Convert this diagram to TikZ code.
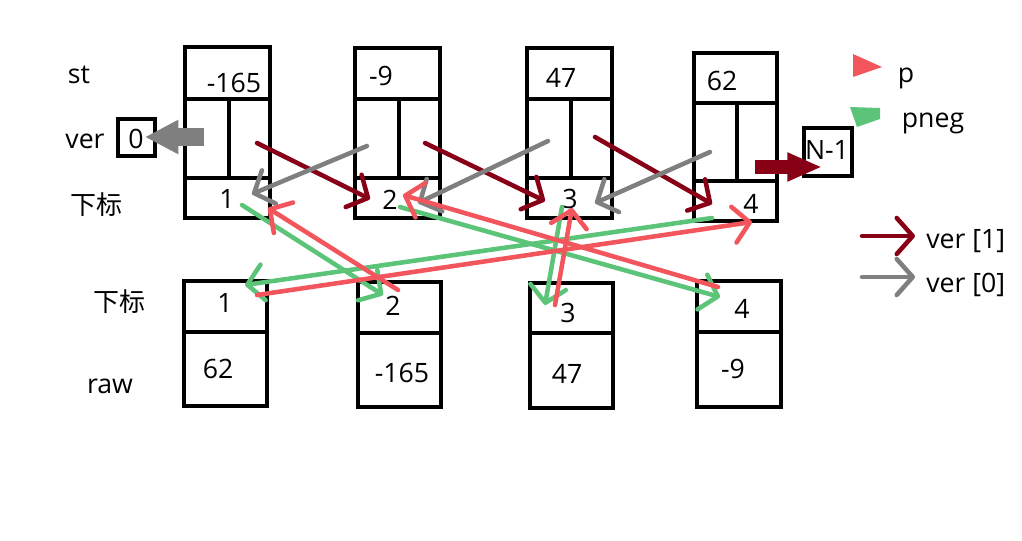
\documentclass[tikz,border=0pt]{standalone}
\usepackage{fontspec}
\setmainfont{Open Sans}
\newfontfamily\cjk{Noto Sans CJK SC}
\usetikzlibrary{arrows.meta}
\definecolor{vone}{RGB}{136,0,21}
\definecolor{vzero}{RGB}{127,127,127}
\definecolor{pcol}{RGB}{242,86,92}
\definecolor{ncol}{RGB}{92,196,121}
\tikzset{
  frame/.style={line width=3.6pt, line join=miter},
  lbl/.style={font=\fontsize{20}{24}\selectfont, inner sep=0pt, anchor=base},
  cjklbl/.style={font=\cjk\fontsize{19.5}{24}\selectfont, inner sep=0pt},
  conn/.style={line width=3.4pt, line cap=round, line join=round,
    -{Straight Barb[round,length=12pt,width=27pt]}},
  vonearr/.style={conn, draw=vone},
  vzeroarr/.style={conn, draw=vzero},
  parr/.style={conn, draw=pcol},
  narr/.style={conn, draw=ncol},
}
\begin{document}
\begin{tikzpicture}[x=0.75pt,y=-0.75pt]
\useasboundingbox[fill=white] (0,0) rectangle (1022,540);

% ---- top boxes (st) ----
\draw[frame] (185,47) rectangle (270,218);
\draw[frame] (185,99) -- (270,99) (185,178) -- (270,178) (229,99) -- (229,178);
\draw[frame] (355,48) rectangle (440,218);
\draw[frame] (355,99) -- (440,99) (355,178) -- (440,178) (399,99) -- (399,178);
\draw[frame] (527,48) rectangle (612,218);
\draw[frame] (527,99) -- (612,99) (527,178) -- (612,178) (571,99) -- (571,178);
\draw[frame] (694,53) rectangle (777,221);
\draw[frame] (694,103) -- (777,103) (694,181) -- (777,181) (737,103) -- (737,181);

% ---- bottom boxes (raw) ----
\draw[frame] (184,281) rectangle (267,406);
\draw[frame] (184,332) -- (267,332);
\draw[frame] (358,282) rectangle (441,407);
\draw[frame] (358,333) -- (441,333);
\draw[frame] (530,283) rectangle (613,408);
\draw[frame] (530,333) -- (613,333);
\draw[frame] (697,281) rectangle (781,407);
\draw[frame] (697,332) -- (781,332);

% ---- small boxes ----
\draw[frame] (118,119) rectangle (155,156);
\draw[frame] (804,128) rectangle (852,176);

% ---- labels ----
\node[lbl] (lst) at (79,83) {st};
\node[lbl] (lver) at (85,148) {ver};
\node[cjklbl] (lidx1) at (96,205) {下标};
\node[cjklbl] (lidx2) at (119,302) {下标};
\node[lbl] (lraw) at (110,393) {raw};

\node[lbl] (s1) at (234,92) {-165};
\node[lbl] (s2) at (381,85) {-9};
\node[lbl] (s3) at (561,87) {47};
\node[lbl] (s4) at (722,90) {62};
\node[lbl] (i1) at (227,208) {1};
\node[lbl] (i2) at (390,209) {2};
\node[lbl] (i3) at (570,208) {3};
\node[lbl] (i4) at (751,213) {4};

\node[lbl] (j1) at (225,312) {1};
\node[lbl] (j2) at (393,315) {2};
\node[lbl] (j3) at (568,322) {3};
\node[lbl] (j4) at (742,318) {4};
\node[lbl] (r1) at (218,378) {62};
\node[lbl] (r2) at (402,382) {-165};
\node[lbl] (r3) at (567,383) {47};
\node[lbl] (r4) at (733,378) {-9};

\node[lbl] (zero) at (136,148) {0};
\node[lbl] (nm) at (827,159) {N-1};

% ---- thick arrows ----
\coordinate (gs) at (204,137);
\coordinate (gt) at (145,137);
\draw[vzero, line width=13pt, -{Triangle[length=25pt,width=24pt]}] (gs) -- (gt);
\coordinate (ds) at (755,167);
\coordinate (dt) at (822,167);
\draw[vone, line width=11pt, -{Triangle[length=26pt,width=20pt]}] (ds) -- (dt);

% ---- ver[1] arrows ----
\coordinate (a1s) at (257,143); \coordinate (a1t) at (370,199);
\coordinate (a2s) at (425,143); \coordinate (a2t) at (545,201);
\coordinate (a3s) at (595,137); \coordinate (a3t) at (712,204);
\draw[vonearr] (a1s) -- (a1t);
\draw[vonearr] (a2s) -- (a2t);
\draw[vonearr] (a3s) -- (a3t);

% ---- ver[0] arrows ----
\coordinate (b1s) at (367,146); \coordinate (b1t) at (252,194);
\coordinate (b2s) at (548,141); \coordinate (b2t) at (418,203);
\coordinate (b3s) at (710,152); \coordinate (b3t) at (595,203);
\draw[vzeroarr] (b1s) -- (b1t);
\draw[vzeroarr] (b2s) -- (b2t);
\draw[vzeroarr] (b3s) -- (b3t);

% ---- pneg arrows ----
\coordinate (g1s) at (242,205); \coordinate (g1t) at (383,295);
\coordinate (g2s) at (400,207); \coordinate (g2t) at (720,297);
\coordinate (g3s) at (562,207); \coordinate (g3t) at (545,305);
\coordinate (g4s) at (712,218); \coordinate (g4t) at (245,285);
\draw[narr] (g1s) -- (g1t);
\draw[narr] (g2s) -- (g2t);
\draw[narr] (g3s) -- (g3t);
\draw[narr] (g4s) -- (g4t);

% ---- p arrows ----
\coordinate (p1s) at (398,290); \coordinate (p1t) at (268,208);
\coordinate (p2s) at (718,287); \coordinate (p2t) at (403,195);
\coordinate (p3s) at (555,305); \coordinate (p3t) at (572,208);
\coordinate (p4s) at (257,295); \coordinate (p4t) at (752,222);
\draw[parr] (p1s) -- (p1t);
\draw[parr] (p2s) -- (p2t);
\draw[parr] (p3s) -- (p3t);
\draw[parr] (p4s) -- (p4t);

% ---- legend ----
\fill[pcol] (853,54) -- (853,77) -- (882,67) -- cycle;
\node[lbl] (lp) at (906,82) {p};
\fill[ncol] (850,107) -- (880,108) -- (880,119) -- (857,127) -- cycle;
\node[lbl] (lpn) at (933,127) {pneg};

\coordinate (l1s) at (862,236); \coordinate (l1t) at (915,236);
\draw[vonearr] (l1s) -- (l1t);
\node[lbl, anchor=base west] (lv1) at (926,248) {ver [1]};
\coordinate (l0s) at (862,277); \coordinate (l0t) at (915,277);
\draw[vzeroarr] (l0s) -- (l0t);
\node[lbl, anchor=base west] (lv0) at (926,292) {ver [0]};
\end{tikzpicture}
\end{document}
